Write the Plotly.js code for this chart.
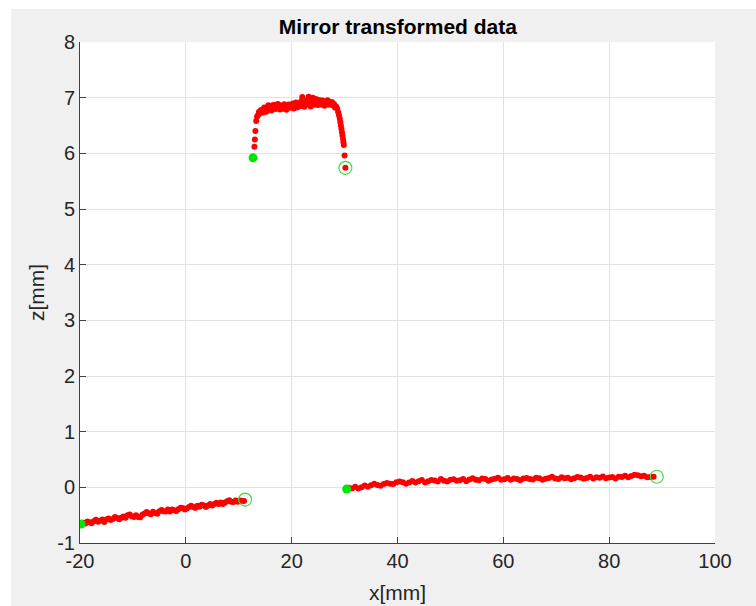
<!DOCTYPE html>
<html><head><meta charset="utf-8">
<script src="https://cdn.plot.ly/plotly-3.0.1.min.js"></script>
<style>html,body{margin:0;padding:0;background:#fff}</style>
</head><body><div id="chart" style="width:756px;height:606px"></div>
<script>
const seg1X = [-19.4,-19.0,-18.6,-18.2,-17.8,-17.4,-17.0,-16.6,-16.2,-15.8,-15.4,-15.0,-14.6,-14.2,-13.8,-13.4,-13.0,-12.6,-12.2,-11.8,-11.4,-11.0,-10.6,-10.2,-9.8,-9.4,-9.0,-8.6,-8.2,-7.8,-7.4,-7.0,-6.6,-6.2,-5.8,-5.4,-5.0,-4.6,-4.2,-3.8,-3.4,-3.0,-2.6,-2.2,-1.8,-1.4,-1.0,-0.6,-0.2,0.2,0.6,1.0,1.4,1.8,2.2,2.6,3.0,3.4,3.8,4.2,4.6,5.0,5.4,5.8,6.2,6.6,7.0,7.4,7.8,8.2,8.6,9.0,9.4,9.8,10.2,10.6,11.0];
const seg1Z = [-0.635,-0.650,-0.614,-0.629,-0.643,-0.608,-0.583,-0.617,-0.602,-0.576,-0.621,-0.576,-0.560,-0.585,-0.569,-0.534,-0.549,-0.573,-0.548,-0.522,-0.547,-0.502,-0.486,-0.521,-0.535,-0.500,-0.535,-0.539,-0.494,-0.468,-0.443,-0.468,-0.482,-0.437,-0.461,-0.476,-0.431,-0.405,-0.430,-0.434,-0.399,-0.434,-0.398,-0.413,-0.427,-0.392,-0.367,-0.371,-0.396,-0.380,-0.355,-0.330,-0.354,-0.369,-0.333,-0.348,-0.313,-0.327,-0.352,-0.326,-0.301,-0.326,-0.300,-0.275,-0.299,-0.274,-0.299,-0.273,-0.248,-0.232,-0.257,-0.262,-0.236,-0.261,-0.235,-0.240,-0.245];

const seg2X = [30.8,31.4,32.0,32.6,33.2,33.8,34.4,35.0,35.6,36.2,36.8,37.4,38.0,38.6,39.2,39.8,40.4,41.0,41.6,42.2,42.8,43.4,44.0,44.6,45.2,45.8,46.4,47.0,47.6,48.2,48.8,49.4,50.0,50.6,51.2,51.8,52.4,53.0,53.6,54.2,54.8,55.4,56.0,56.6,57.2,57.8,58.4,59.0,59.6,60.2,60.8,61.4,62.0,62.6,63.2,63.8,64.4,65.0,65.6,66.2,66.8,67.4,68.0,68.6,69.2,69.8,70.4,71.0,71.6,72.2,72.8,73.4,74.0,74.6,75.2,75.8,76.4,77.0,77.6,78.2,78.8,79.4,80.0,80.6,81.2,81.8,82.4,83.0,83.6,84.2,84.8,85.4,86.0,86.6,87.2,87.8,88.4];
const seg2Z = [-0.008,-0.023,0.012,-0.023,0.003,0.031,0.009,0.037,0.065,0.042,0.027,0.062,0.078,0.063,0.058,0.093,0.107,0.091,0.065,0.088,0.112,0.085,0.109,0.133,0.086,0.108,0.131,0.123,0.105,0.148,0.120,0.103,0.135,0.146,0.117,0.129,0.150,0.111,0.142,0.163,0.135,0.126,0.157,0.148,0.119,0.141,0.152,0.173,0.134,0.145,0.166,0.136,0.157,0.148,0.128,0.159,0.169,0.150,0.141,0.172,0.164,0.135,0.156,0.167,0.188,0.160,0.150,0.181,0.162,0.172,0.143,0.163,0.184,0.175,0.155,0.167,0.188,0.159,0.180,0.171,0.193,0.164,0.175,0.187,0.160,0.192,0.184,0.206,0.179,0.204,0.226,0.218,0.200,0.208,0.179,0.185,0.191];

const seg3X = [12.95,13.05,13.15,13.3,13.45,
  13.6,13.8,14.0,14.2,14.4,14.6,14.8,15.0,15.2,15.4,15.6,15.8,16.0,16.2,16.4,16.6,16.8,17.0,17.2,17.4,17.6,17.8,18.0,18.2,18.4,18.6,18.8,19.0,19.2,19.4,19.6,19.8,20.0,20.2,20.4,20.6,20.8,21.0,21.2,21.4,21.6,21.8,22.0,22.2,22.4,22.6,22.8,23.0,23.2,23.4,23.6,23.8,24.0,24.2,24.4,24.6,24.8,25.0,25.2,25.4,25.6,25.8,26.0,26.2,26.4,26.6,26.8,27.0,27.2,27.4,27.6,27.8,28.0,28.2,28.4,
  28.6,28.8,28.95,29.1,29.2,29.3,29.4,29.5,29.6,29.7,29.78,29.85,30.0,30.15];
const seg3Z = [6.12,6.25,6.40,6.58,6.66,
  6.680,6.743,6.717,6.780,6.753,6.734,6.822,6.790,6.748,6.826,6.864,6.792,6.840,6.771,6.862,6.823,6.874,6.795,6.846,6.887,6.818,6.789,6.860,6.841,6.802,6.883,6.854,6.785,6.836,6.877,6.818,6.869,6.830,6.893,6.806,6.869,6.912,6.825,6.868,6.901,6.844,6.937,7.010,6.903,6.835,6.928,6.871,6.963,7.016,6.909,6.841,6.954,6.997,6.899,6.872,6.975,6.927,6.870,6.959,6.918,6.878,6.947,6.906,6.855,6.934,6.894,6.953,6.872,6.921,6.880,6.923,6.860,6.887,6.823,6.840,
  6.80,6.74,6.68,6.62,6.56,6.50,6.44,6.38,6.32,6.26,6.20,6.15,5.96,5.74];

const startX = [-19.8, 30.4, 12.7];
const startZ = [-0.66, -0.03, 5.92];
const endX = [11.2, 89.0, 30.15];
const endZ = [-0.22, 0.19, 5.74];

const xTicks = [-20, 0, 20, 40, 60, 80, 100];
const yTicks = [-1, 0, 1, 2, 3, 4, 5, 6, 7, 8];

const FONT = 'Liberation Sans, Arial, Helvetica, sans-serif';
const red = {color: '#ff0000', size: 6};

const traces = [
  {x: seg1X, y: seg1Z, mode: 'markers', type: 'scatter', marker: red},
  {x: seg2X, y: seg2Z, mode: 'markers', type: 'scatter', marker: red},
  {x: seg3X, y: seg3Z, mode: 'markers', type: 'scatter', marker: red},
  {x: startX, y: startZ, mode: 'markers', type: 'scatter', marker: {color: '#00e800', size: 9}},
  {x: endX, y: endZ, mode: 'markers', type: 'scatter', marker: {symbol: 'circle-open', color: '#3ade3a', size: 13, line: {width: 1.2}}}
];

const axisCommon = {
  ticks: 'inside', ticklen: 6, tickcolor: '#404040', tickwidth: 1,
  showline: true, linecolor: '#404040', linewidth: 1,
  showgrid: true, gridcolor: '#e2e2e2', gridwidth: 1,
  zeroline: false, automargin: false,
  tickfont: {family: FONT, size: 20, color: '#262626'}
};

const layout = {
  width: 756, height: 606,
  margin: {l: 80, r: 41, t: 42, b: 63, pad: 0},
  paper_bgcolor: '#f0f0f0', plot_bgcolor: '#ffffff',
  showlegend: false,
  title: {text: 'Mirror transformed data', x: 0.5263, xref: 'container', xanchor: 'center',
          y: 1 - 27/606, yref: 'container', yanchor: 'middle',
          font: {family: FONT, size: 21, color: '#000000', weight: 'bold'}},
  xaxis: Object.assign({}, axisCommon, {
    range: [-20, 100], tickmode: 'array', tickvals: xTicks, ticktext: xTicks.map(String),
    title: {text: 'x[mm]', font: {family: FONT, size: 21, color: '#262626'}, standoff: 14}
  }),
  yaxis: Object.assign({}, axisCommon, {
    range: [-1, 8], tickmode: 'array', tickvals: yTicks, ticktext: yTicks.map(String),
    title: {text: 'z[mm]', font: {family: FONT, size: 21, color: '#262626'}, standoff: 6}
  }),
  shapes: [
    {type: 'rect', xref: 'paper', yref: 'paper', x0: -0.2, x1: (11-80)/635, y0: -0.2, y1: 1.2,
     fillcolor: '#ffffff', line: {width: 0}, layer: 'below'},
    {type: 'rect', xref: 'paper', yref: 'paper', x0: -0.2, x1: 1.2, y0: (543-9)/501, y1: 1.2,
     fillcolor: '#ffffff', line: {width: 0}, layer: 'below'}
  ]
};

Plotly.newPlot('chart', traces, layout, {displayModeBar: false, staticPlot: true});
</script>
</body></html>
